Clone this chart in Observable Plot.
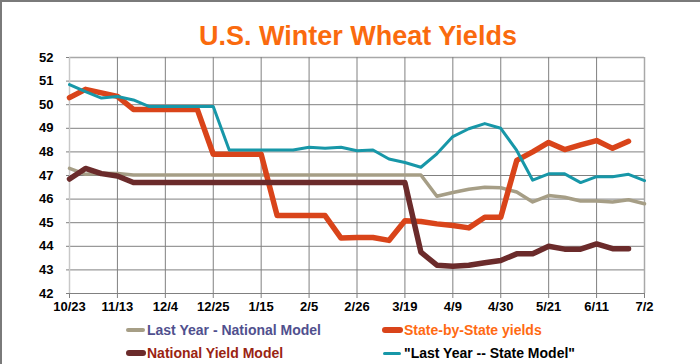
<!DOCTYPE html>
<html>
<head>
<meta charset="utf-8">
<script src="https://cdn.jsdelivr.net/npm/d3@7"></script>
<script src="https://cdn.jsdelivr.net/npm/@observablehq/plot@0.6"></script>
<style>
  html, body { margin: 0; padding: 0; background: #fff; }
  #wrap { position: relative; width: 700px; height: 364px; overflow: hidden; background: #fff; }
  #wrap svg { position: absolute; left: 0; top: 0; }
  .bt { position: absolute; left: 0; top: 0; width: 700px; height: 2px; background: #7a7a7a; }
  .bl { position: absolute; left: 0; top: 0; width: 2px; height: 364px; background: #7a7a7a; }
  #title { position: absolute; left: 0; width: 716px; text-align: center; top: 23px;
    font: bold 27px "Liberation Sans", Arial, sans-serif; line-height: 27px; color: #FA6A0E; white-space: nowrap; }
  .lg { position: absolute; font: bold 14px "Liberation Sans", Arial, sans-serif; line-height: 14px; white-space: nowrap; }
  .sw { position: absolute; border-radius: 3px; }
</style>
</head>
<body>
<div id="wrap">
  <div id="title">U.S. Winter Wheat Yields</div>
</div>
<script>
// x tick labels (every third week)
const tickLabels = ["10/23","11/13","12/4","12/25","1/15","2/5","2/26","3/19","4/9","4/30","5/21","6/11","7/2"];
const yTicks = [42,43,44,45,46,47,48,49,50,51,52];

// Weekly values (index = week since 10/23)
const lastYearNational = [47.3, 47.05, 47.1, 47.08, 47.02,
  47.02, 47.02, 47.02, 47.02, 47.02, 47.02, 47.02, 47.02, 47.02,
  47.02, 47.02, 47.02, 47.02, 47.02, 47.02, 47.02, 47.02, 47.02,
  46.12, 46.28, 46.42, 46.5, 46.48, 46.3, 45.88, 46.15, 46.08, 45.92, 45.92, 45.88, 45.97, 45.8];
const stateByState = [50.3, 50.65, 50.5, 50.35, 49.8, 49.8, 49.8, 49.8, 49.8,
  47.9, 47.9, 47.9, 47.9, 45.3, 45.3, 45.3, 45.3,
  44.35, 44.37, 44.37, 44.25, 45.08, 45.05, 44.95, 44.88, 44.78, 45.23, 45.23,
  47.64, 48.0, 48.4, 48.1, 48.3, 48.48, 48.15, 48.45];
const nationalModel = [46.85, 47.3, 47.08, 46.98, 46.7,
  46.7, 46.7, 46.7, 46.7, 46.7, 46.7, 46.7, 46.7, 46.7, 46.7, 46.7, 46.7, 46.7, 46.7, 46.7, 46.7, 46.7,
  43.75, 43.2, 43.15, 43.2, 43.3, 43.4, 43.68, 43.68, 44.0, 43.88, 43.88, 44.1, 43.9, 43.9];
const lastYearState = [50.85, 50.55, 50.28, 50.35, 50.2,
  49.92, 49.92, 49.92, 49.92, 49.92,
  48.08, 48.08, 48.08, 48.08, 48.08,
  48.2, 48.15, 48.2, 48.05, 48.08, 47.7, 47.55, 47.35, 47.92,
  48.65, 48.98, 49.2, 49.0, 48.06, 46.8, 47.07, 47.07, 46.7, 46.95, 46.95, 47.05, 46.78];

const seriesNames = ["Last Year - National Model", "State-by-State yields", "National Yield Model", "\"Last Year -- State Model\""];
const seriesColors = ["#A69E86", "#D9441A", "#6B2B2B", "#1797A8"];
const seriesWidths = [3.5, 5.5, 5.5, 3];
const textColors = ["#50508E", "#FF6A13", "#9A2412", "#000000"];
const seriesValues = [lastYearNational, stateByState, nationalModel, lastYearState];

const xTicks = tickLabels.map((_, i) => i * 3);
const toRows = vals => vals.map((v, i) => ({x: i, y: v}));

const plot = Plot.plot({
  width: 700,
  height: 364,
  marginTop: 57,
  marginBottom: 71,
  marginLeft: 69,
  marginRight: 56,
  style: {font: "bold 13px 'Liberation Sans', Arial, sans-serif", background: "transparent", color: "#000"},
  x: {domain: [0, 36], label: null},
  y: {domain: [42, 52], label: null},
  marks: [
    Plot.ruleY(yTicks.filter(t => t < 52), {y: d => d, stroke: "#808080", strokeWidth: 1}),
    Plot.ruleY([52], {stroke: "#a8a8a8", strokeWidth: 1.5}),
    Plot.ruleX(xTicks.filter(t => t > 0 && t < 36), {x: d => d, stroke: "#808080", strokeWidth: 1}),
    Plot.ruleX([36], {stroke: "#a8a8a8", strokeWidth: 1.5}),
    Plot.ruleX([0], {stroke: "#c8c8c8", strokeWidth: 1.5}),
    Plot.axisX({ticks: xTicks, tickFormat: d => tickLabels[d / 3], tickSize: 5, tickPadding: 3, stroke: "#808080", fill: "#000", label: null}),
    Plot.axisY({ticks: yTicks, tickSize: 3, tickPadding: 13, stroke: "#808080", fill: "#000", label: null}),
    ...seriesValues.map((vals, k) => Plot.line(toRows(vals), {
      x: "x", y: "y", stroke: seriesColors[k], strokeWidth: seriesWidths[k],
      strokeLinejoin: "round", strokeLinecap: "round"
    }))
  ]
});

const wrap = document.getElementById("wrap");
wrap.insertBefore(plot, wrap.firstChild);

// Legend
const legendPos = [
  {sx: 126, sw: 19, tx: 147, cy: 330},
  {sx: 382, sw: 21, tx: 404, cy: 330},
  {sx: 126, sw: 20, tx: 147, cy: 353},
  {sx: 383, sw: 18, tx: 404, cy: 353}
];
seriesNames.forEach((name, k) => {
  const p = legendPos[k];
  const sw = document.createElement("div");
  sw.className = "sw";
  const h = seriesWidths[k];
  sw.style.cssText = `left:${p.sx}px;top:${p.cy - h / 2}px;width:${p.sw}px;height:${h}px;background:${seriesColors[k]}`;
  wrap.appendChild(sw);
  const t = document.createElement("div");
  t.className = "lg";
  t.textContent = name;
  t.style.left = p.tx + "px";
  t.style.top = (p.cy - 7) + "px";
  t.style.color = textColors[k];
  wrap.appendChild(t);
});
const bt = document.createElement("div"); bt.className = "bt"; wrap.appendChild(bt);
const bl = document.createElement("div"); bl.className = "bl"; wrap.appendChild(bl);
</script>
</body>
</html>
